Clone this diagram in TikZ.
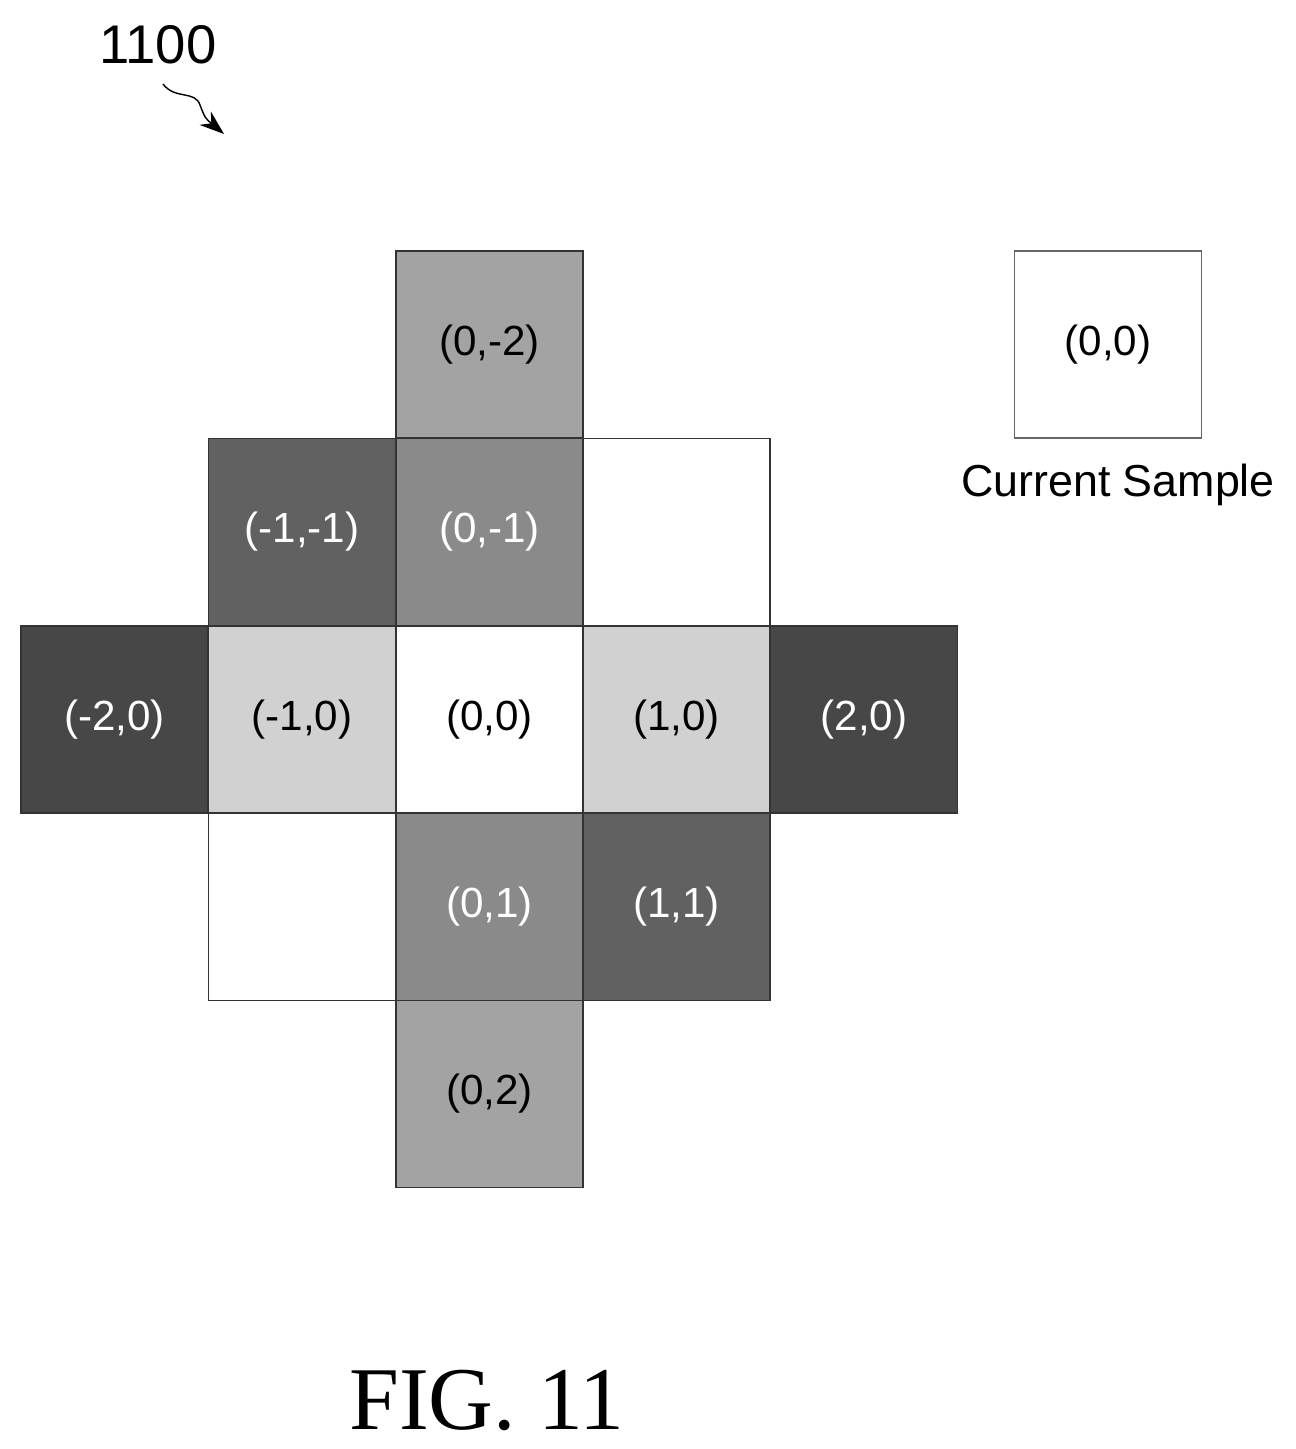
\documentclass[tikz,border=0pt]{standalone}
\usepackage{fontspec}
\usetikzlibrary{arrows.meta}
\setmainfont{Liberation Sans}
\newfontfamily\figfont{Liberation Serif}
\begin{document}
\begin{tikzpicture}[x=0.02cm,y=-0.02cm,
 cell/.style={draw=black!80,line width=0.6pt,minimum width=187*0.02cm,minimum height=187*0.02cm,inner sep=0pt,font=\fontsize{24}{28}\selectfont},
 lt/.style={cell,fill=black!18},
 md/.style={cell,fill=black!36},
 mw/.style={cell,fill=black!46,text=white},
 dk/.style={cell,fill=black!62,text=white},
 dd/.style={cell,fill=black!72,text=white},
 wt/.style={cell,fill=white}]
\useasboundingbox (0,0) rectangle (1295,1449);
\node[md] (a) at (489.5,344.5) {(0,-2)};
\node[dk] (b) at (302,532) {(-1,-1)};
\node[mw] (c) at (489.5,532) {(0,-1)};
\node[wt] (d) at (676.5,532) {};
\node[dd] (e) at (114.5,719.5) {(-2,0)};
\node[lt] (f) at (302,719.5) {(-1,0)};
\node[wt] (g) at (489.5,719.5) {(0,0)};
\node[lt] (h) at (676.5,719.5) {(1,0)};
\node[dd] (i) at (864,719.5) {(2,0)};
\node[wt] (j) at (302,907) {};
\node[mw] (k) at (489.5,907) {(0,1)};
\node[dk] (l) at (676.5,907) {(1,1)};
\node[md] (m) at (489.5,1094) {(0,2)};
\node[cell,draw=black!60] (cs) at (1108,344.5) {(0,0)};
\node[font=\fontsize{25.5}{30}\selectfont] (cst) at (1118,485) {Current Sample};
\node[font=\fontsize{31}{34}\selectfont] (ref) at (158,45) {1100};
\coordinate (s1) at (163,84);
\coordinate (s2) at (224,134);
\draw[line width=0.8pt,-{Stealth[length=14pt,width=10pt]}] (s1) .. controls (175,100) and (195,90) .. (200,105) .. controls (205,118) .. (s2);
\node[font=\figfont\fontsize{51}{56}\selectfont] (fig) at (487,1400) {FIG. 11};
\end{tikzpicture}
\end{document}
